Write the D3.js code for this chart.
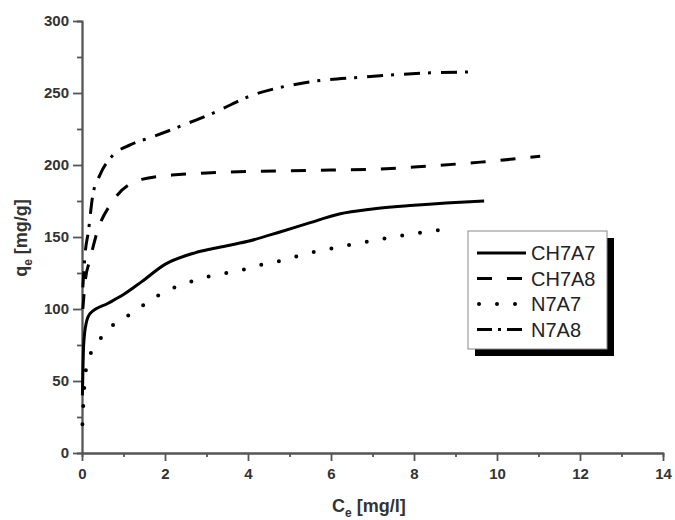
<!DOCTYPE html>
<html lang="en">
  <head>
    <meta charset="UTF-8" />
    <script src="https://d3js.org/d3.v7.min.js"></script>
    <title>Isotherms</title>
    <style>
      body { margin: 0; background: #fff; }
      text { font-family: "Liberation Sans", Arial, sans-serif; }
    </style>
  </head>
  <body>
    <svg id="chart" width="675" height="520"></svg>
    <script>
      // data: [Ce, qe]
      var ch7a7 = [[0.01, 40], [0.04, 75], [0.1, 90], [0.2, 97], [0.63, 104], [1.0, 110],
        [1.44, 119], [2.0, 131], [2.72, 139], [3.16, 142], [4.0, 147], [4.77, 153.5],
        [5.5, 160], [6.2, 166], [7.0, 169.5], [8.0, 172], [9.0, 174], [9.69, 175]];
      var ch7a8 = [[0.02, 100], [0.08, 120], [0.19, 134], [0.36, 153], [0.72, 174],
        [1.44, 190], [2.17, 193], [3.0, 194.5], [4.0, 195.5], [5.0, 196], [6.0, 196.5],
        [7.0, 197], [8.0, 198.6], [9.6, 202], [11.04, 206]];
      var n7a7 = [[0.01, 20], [0.07, 52], [0.15, 64], [0.39, 77], [0.75, 89], [1.2, 97],
        [1.64, 106], [2.07, 113], [2.53, 118], [2.96, 122], [3.4, 124.5], [3.85, 127],
        [4.29, 130.5], [4.72, 133], [5.5, 139], [6.46, 144.5], [7.5, 150], [8.67, 155]];
      var n7a8 = [[0.02, 115], [0.08, 140], [0.15, 153], [0.26, 179], [0.43, 193],
        [0.72, 206], [1.16, 214], [1.69, 219.5], [2.2, 225], [2.55, 229], [3.16, 236],
        [3.97, 247], [5.33, 257], [6.77, 261], [8.39, 264], [9.54, 264.6]];

      var seriesNames = ['CH7A7', 'CH7A8', 'N7A7', 'N7A8'];
      var seriesData = [ch7a7, ch7a8, n7a7, n7a8];
      var dashes = [null, '15,15', '0,18', '16,8,3,10'];
      var caps = ['butt', 'butt', 'round', 'butt'];

      var xTicks = [0, 2, 4, 6, 8, 10, 12, 14];
      var yTicks = [0, 50, 100, 150, 200, 250, 300];

      var svg = d3.select('#chart');

      var x = d3.scaleLinear().domain([0, 14]).range([82, 663]);
      var y = d3.scaleLinear().domain([0, 300]).range([453, 21]);

      var axisColor = '#555';
      var textColor = '#333';

      // minor ticks
      svg.append('g')
        .attr('transform', 'translate(0,453)')
        .call(d3.axisBottom(x).tickValues(d3.range(1, 14, 2)).tickSize(4).tickFormat(''));
      svg.append('g')
        .attr('transform', 'translate(82,0)')
        .call(d3.axisLeft(y).tickValues(d3.range(25, 300, 50)).tickSize(5).tickFormat(''));

      // major axes
      svg.append('g')
        .attr('transform', 'translate(0,453)')
        .call(d3.axisBottom(x).tickValues(xTicks).tickSize(8).tickSizeOuter(0).tickPadding(7));
      svg.append('g')
        .attr('transform', 'translate(82,0)')
        .call(d3.axisLeft(y).tickValues(yTicks).tickSize(9).tickSizeOuter(0).tickPadding(4));

      svg.selectAll('.domain, .tick line')
        .attr('stroke', axisColor)
        .attr('stroke-width', 1.8);
      svg.selectAll('.tick text')
        .attr('fill', textColor)
        .style('font-size', '15px')
        .style('font-weight', 'bold');

      // curves
      var line = d3.line()
        .x(function(d) { return x(d[0]); })
        .y(function(d) { return y(d[1]); })
        .curve(d3.curveMonotoneX);

      svg.append('g')
        .selectAll('path')
        .data(seriesData)
        .enter()
        .append('path')
        .attr('d', line)
        .attr('fill', 'none')
        .attr('stroke', '#000')
        .attr('stroke-width', function(d, i) { return i === 2 ? 4 : 3; })
        .attr('stroke-linecap', function(d, i) { return caps[i]; })
        .attr('stroke-dasharray', function(d, i) { return dashes[i]; });

      // axis titles
      var xt = svg.append('text')
        .attr('x', 332)
        .attr('y', 512)
        .attr('fill', textColor)
        .style('font-size', '18px')
        .style('font-weight', 'bold');
      xt.append('tspan').text('C');
      xt.append('tspan').attr('dy', 5).style('font-size', '12px').text('e');
      xt.append('tspan').attr('dy', -5).text(' [mg/l]');

      var yt = svg.append('text')
        .attr('transform', 'translate(27,238) rotate(-90)')
        .attr('text-anchor', 'middle')
        .attr('fill', textColor)
        .style('font-size', '18px')
        .style('font-weight', 'bold');
      yt.append('tspan').text('q');
      yt.append('tspan').attr('dy', 5).style('font-size', '12px').text('e');
      yt.append('tspan').attr('dy', -5).text(' [mg/g]');

      // legend
      var lg = svg.append('g');
      lg.append('rect')
        .attr('x', 475).attr('y', 238).attr('width', 139).attr('height', 118)
        .attr('fill', '#000');
      lg.append('rect')
        .attr('x', 468).attr('y', 231).attr('width', 139).attr('height', 118)
        .attr('fill', '#fff').attr('stroke', '#888').attr('stroke-width', 1);

      var rows = lg.selectAll('g.row')
        .data(seriesNames)
        .enter()
        .append('g')
        .attr('class', 'row')
        .attr('transform', function(d, i) { return 'translate(0,' + (253 + i * 25.5) + ')'; });
      rows.append('line')
        .attr('x1', function(d, i) { return i === 2 ? 479 : 477; })
        .attr('x2', 526)
        .attr('y1', 0).attr('y2', 0)
        .attr('stroke', '#000')
        .attr('stroke-width', function(d, i) { return i === 2 ? 4 : 3; })
        .attr('stroke-linecap', function(d, i) { return caps[i]; })
        .attr('stroke-dasharray', function(d, i) { return i === 3 ? '15,6,3,6' : i === 2 ? '0,18' : dashes[i]; });
      rows.append('text')
        .attr('x', 531)
        .attr('y', 7)
        .attr('fill', '#222')
        .style('font-size', '20px')
        .text(function(d) { return d; });
    </script>
  </body>
</html>
